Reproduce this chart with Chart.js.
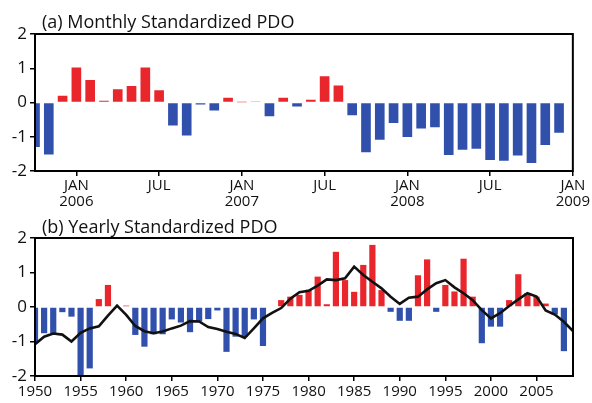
<!DOCTYPE html>
<html>
<head>
<meta charset="utf-8">
<script src="https://cdn.jsdelivr.net/npm/chart.js@4.4.1/dist/chart.umd.min.js"></script>
<style>
  html, body { margin: 0; padding: 0; background: #fff; }
  #wrap { position: relative; width: 592px; height: 403px; }
  #top { position: absolute; left: 0; top: 0; }
  #bottom { position: absolute; left: 0; top: 205px; }
</style>
</head>
<body>
<div id="wrap">
  <canvas id="top" width="592" height="216"></canvas>
  <canvas id="bottom" width="592" height="198"></canvas>
</div>
<script>
// panel (a) - monthly PDO, Oct 2005 .. Dec 2008
const monthLabels = [
    'Oct 2005', 'Nov 2005', 'Dec 2005',
    'Jan 2006', 'Feb 2006', 'Mar 2006', 'Apr 2006', 'May 2006', 'Jun 2006',
    'Jul 2006', 'Aug 2006', 'Sep 2006', 'Oct 2006', 'Nov 2006', 'Dec 2006',
    'Jan 2007', 'Feb 2007', 'Mar 2007', 'Apr 2007', 'May 2007', 'Jun 2007',
    'Jul 2007', 'Aug 2007', 'Sep 2007', 'Oct 2007', 'Nov 2007', 'Dec 2007',
    'Jan 2008', 'Feb 2008', 'Mar 2008', 'Apr 2008', 'May 2008', 'Jun 2008',
    'Jul 2008', 'Aug 2008', 'Sep 2008', 'Oct 2008', 'Nov 2008', 'Dec 2008',
    'Jan 2009'
];
const monthlyPdo = [
    -1.30, -1.52, 0.20,
    1.02, 0.66, 0.05, 0.39, 0.48, 1.02,
    0.36, -0.67, -0.96, -0.06, -0.23, 0.14,
    0.01, 0.03, -0.40, 0.14, -0.12, 0.08,
    0.77, 0.50, -0.37, -1.45, -1.09, -0.60,
    -1.01, -0.76, -0.72, -1.53, -1.38, -1.35,
    -1.68, -1.70, -1.55, -1.77, -1.24, -0.88
];
const monthTicks = ['Jan 2006', 'Jul 2006', 'Jan 2007', 'Jul 2007', 'Jan 2008', 'Jul 2008', 'Jan 2009'];

// panel (b) - yearly PDO 1950..2008 and smoothed curve 1950..2009
const years = [];
for (let y = 1950; y <= 2008; y++) years.push(y);
const yearlyPdo = [
    -1.05, -0.76, -0.76, -0.15, -0.28, -1.98, -1.78, 0.23, 0.64, 0.00,
    0.04, -0.81, -1.15, -0.79, -0.79, -0.36, -0.45, -0.73, -0.42, -0.35,
    -0.10, -1.30, -0.86, -0.86, -0.36, -1.13, 0.00, 0.20, 0.30, 0.35,
    0.50, 0.88, 0.08, 1.60, 0.78, 0.44, 1.22, 1.80, 0.49, -0.14,
    -0.40, -0.40, 0.92, 1.38, -0.14, 0.64, 0.45, 1.40, 0.30, -1.05,
    -0.57, -0.57, 0.20, 0.95, 0.40, 0.30, 0.10, -0.22, -1.28
];
const smoothYears = years.concat([2009]);
const smoothPdo = [
    -1.08, -0.86, -0.77, -0.80, -1.00, -0.75, -0.62, -0.56, -0.25, 0.04,
    -0.23, -0.55, -0.70, -0.76, -0.71, -0.62, -0.54, -0.41, -0.42, -0.58,
    -0.64, -0.72, -0.78, -0.90, -0.62, -0.33, -0.17, -0.03, 0.24, 0.43,
    0.47, 0.62, 0.80, 0.78, 0.83, 1.17, 0.93, 0.73, 0.54, 0.30,
    0.09, 0.27, 0.30, 0.51, 0.69, 0.78, 0.57, 0.40, 0.20, -0.09,
    -0.33, -0.18, 0.03, 0.22, 0.40, 0.30, -0.10, -0.22, -0.43, -0.70
];
const yearTicks = [1950, 1955, 1960, 1965, 1970, 1975, 1980, 1985, 1990, 1995, 2000, 2005];

const RED = '#e8262c';
const BLUE = '#3050ac';
const FONT = "'Open Sans', 'DejaVu Sans', sans-serif";

Chart.defaults.font.family = FONT;
Chart.defaults.color = '#111';

function barColor(ctx) {
    const v = ctx.parsed ? ctx.parsed.y : 0;
    return v >= 0 ? RED : BLUE;
}

// frame + panel title
const framePlugin = {
    id: 'frame',
    afterDraw(chart, args, opts) {
        const { ctx, chartArea: a } = chart;
        ctx.save();
        ctx.strokeStyle = '#000';
        ctx.lineWidth = 2;
        ctx.strokeRect(a.left, a.top, a.right - a.left, a.bottom - a.top);
        ctx.fillStyle = '#111';
        ctx.font = '18px ' + FONT;
        ctx.textAlign = 'left';
        ctx.textBaseline = 'alphabetic';
        ctx.fillText(opts.text, a.left + 7, a.top - opts.gap);
        ctx.restore();
    }
};

function yAxis() {
    return {
        min: -2,
        max: 2,
        afterFit: s => { s.width = 35; },
        afterBuildTicks: s => { s.ticks = [-2, -1, 0, 1, 2].map(v => ({ value: v })); },
        border: { display: false },
        grid: { drawOnChartArea: false, drawTicks: true, tickLength: 5, color: '#000', lineWidth: 1.5 },
        ticks: { font: { size: 17 }, padding: 3 }
    };
}

new Chart(document.getElementById('top'), {
    type: 'bar',
    data: {
        labels: monthLabels,
        datasets: [{
            data: monthlyPdo,
            backgroundColor: barColor,
            barPercentage: 0.7,
            categoryPercentage: 1
        }]
    },
    options: {
        responsive: false,
        animation: false,
        layout: { padding: { top: 34, right: 19, left: 0, bottom: 0 } },
        plugins: {
            legend: { display: false },
            tooltip: { enabled: false },
            frame: { text: '(a) Monthly Standardized PDO', gap: 6 }
        },
        scales: {
            x: {
                type: 'category',
                offset: false,
                afterFit: s => { s.height = 45; },
                afterBuildTicks: s => {
                    s.ticks = s.ticks.filter(t => monthTicks.includes(monthLabels[t.value]));
                },
                border: { display: false },
                grid: { offset: false, drawOnChartArea: false, drawTicks: true, tickLength: 5, color: '#000', lineWidth: 1.5 },
                ticks: {
                    autoSkip: false,
                    maxRotation: 0,
                    padding: 2,
                    font: { size: 15, lineHeight: 1.05 },
                    callback: function (value) {
                        const parts = this.getLabelForValue(value).split(' ');
                        const m = parts[0].toUpperCase();
                        return m === 'JAN' ? [m, parts[1]] : m;
                    }
                }
            },
            y: yAxis()
        }
    },
    plugins: [framePlugin]
});

new Chart(document.getElementById('bottom'), {
    type: 'bar',
    data: {
        datasets: [{
            type: 'line',
            data: smoothYears.map((y, i) => ({ x: y, y: smoothPdo[i] })),
            borderColor: '#111',
            borderWidth: 2.6,
            pointRadius: 0,
            tension: 0,
            order: 0
        }, {
            type: 'bar',
            data: years.map((y, i) => ({ x: y, y: yearlyPdo[i] })),
            backgroundColor: barColor,
            barPercentage: 0.68,
            categoryPercentage: 1,
            order: 1
        }]
    },
    options: {
        responsive: false,
        animation: false,
        layout: { padding: { top: 33, right: 19, left: 0, bottom: 0 } },
        plugins: {
            legend: { display: false },
            tooltip: { enabled: false },
            frame: { text: '(b) Yearly Standardized PDO', gap: 5 }
        },
        scales: {
            x: {
                type: 'linear',
                min: 1950,
                max: 2009,
                offset: false,
                afterFit: s => { s.height = 27; },
                afterBuildTicks: s => { s.ticks = yearTicks.map(v => ({ value: v })); },
                border: { display: false },
                grid: { offset: false, drawOnChartArea: false, drawTicks: true, tickLength: 5, color: '#000', lineWidth: 1.5 },
                ticks: {
                    autoSkip: false,
                    maxRotation: 0,
                    padding: 2,
                    font: { size: 15 },
                    callback: v => String(v)
                }
            },
            y: yAxis()
        }
    },
    plugins: [framePlugin]
});
</script>
</body>
</html>
